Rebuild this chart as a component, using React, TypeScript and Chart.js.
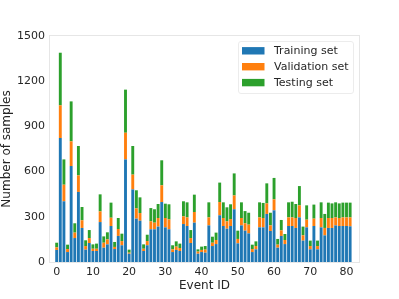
import React, { useEffect, useRef } from 'react';
import { Chart, registerables } from 'chart.js';

Chart.register(...registerables);

const eventIds = [
  0, 1, 2, 3, 4, 5, 6, 7, 8, 9, 10, 11, 12, 13, 14, 15, 16, 17, 18, 19,
  20, 21, 22, 23, 24, 25, 26, 27, 28, 29, 30, 31, 32, 33, 34, 35, 36, 37, 38, 39,
  40, 41, 42, 43, 44, 45, 46, 47, 48, 49, 50, 51, 52, 53, 54, 55, 56, 57, 58, 59,
  60, 61, 62, 63, 64, 65, 66, 67, 68, 69, 70, 71, 72, 73, 74, 75, 76, 77, 78, 79,
  80, 81,
];

const training = [
  80, 823, 403, 66, 637, 159, 465, 226, 82, 126, 73, 73, 265, 95, 117, 239, 86, 173, 111, 681,
  55, 482, 288, 274, 73, 111, 217, 217, 235, 398, 230, 217, 66, 80, 73, 252, 239, 126, 261, 55,
  66, 62, 243, 106, 119, 310, 239, 221, 239, 350, 124, 243, 208, 190, 66, 84, 230, 230, 319, 206,
  343, 95, 173, 119, 239, 239, 226, 296, 142, 230, 84, 239, 84, 230, 177, 226, 226, 243, 239, 239,
  239, 237,
];

const validation = [
  17, 217, 110, 20, 164, 36, 110, 51, 24, 33, 15, 15, 71, 33, 33, 55, 14, 46, 28, 177,
  7, 98, 68, 51, 15, 28, 53, 44, 57, 111, 62, 66, 18, 22, 20, 51, 57, 33, 71, 14,
  14, 20, 53, 22, 27, 88, 53, 49, 46, 92, 29, 49, 49, 58, 20, 22, 66, 62, 70, 37,
  73, 20, 37, 27, 57, 57, 66, 80, 35, 51, 22, 49, 22, 62, 49, 66, 66, 53, 53, 57,
  57, 59,
];

const testing = [
  31, 349, 168, 29, 265, 62, 195, 88, 38, 53, 29, 34, 113, 42, 47, 100, 33, 73, 49, 286,
  20, 190, 120, 104, 29, 42, 88, 89, 93, 166, 95, 100, 27, 35, 29, 100, 100, 53, 115, 15,
  22, 24, 100, 40, 49, 129, 104, 93, 98, 146, 55, 104, 81, 79, 29, 31, 100, 100, 133, 84,
  142, 38, 69, 40, 100, 104, 93, 128, 58, 95, 36, 93, 36, 104, 93, 102, 97, 100, 97, 98,
  98, 98,
];

const seriesNames = ['Training set', 'Validation set', 'Testing set'];
const seriesColors = ['#1f77b4', '#ff7f0e', '#2ca02c'];
const xTicks = [0, 10, 20, 30, 40, 50, 60, 70, 80];
const yTicks = [0, 300, 600, 900, 1200, 1500];

const FONT = 'DejaVu Sans';
const TEXT = '#262626';

const framePlugin = {
  id: 'frame',
  beforeDatasetsDraw(chart: any) {
    const { ctx, chartArea } = chart;
    ctx.save();
    ctx.strokeStyle = '#e6e6e6';
    ctx.lineWidth = 1;
    ctx.strokeRect(
      Math.round(chartArea.left) - 0.5,
      Math.round(chartArea.top) - 0.5,
      Math.round(chartArea.right - chartArea.left) + 1,
      Math.round(chartArea.bottom - chartArea.top) + 1
    );
    ctx.restore();
  },
};

const legendPlugin = {
  id: 'customLegend',
  afterDraw(chart: any) {
    const { ctx } = chart;
    const x0 = 238.5;
    const y0 = 41.5;
    const w = 115;
    const h = 52;
    ctx.save();
    ctx.beginPath();
    const r = 2.5;
    ctx.moveTo(x0 + r, y0);
    ctx.lineTo(x0 + w - r, y0);
    ctx.quadraticCurveTo(x0 + w, y0, x0 + w, y0 + r);
    ctx.lineTo(x0 + w, y0 + h - r);
    ctx.quadraticCurveTo(x0 + w, y0 + h, x0 + w - r, y0 + h);
    ctx.lineTo(x0 + r, y0 + h);
    ctx.quadraticCurveTo(x0, y0 + h, x0, y0 + h - r);
    ctx.lineTo(x0, y0 + r);
    ctx.quadraticCurveTo(x0, y0, x0 + r, y0);
    ctx.closePath();
    ctx.fillStyle = 'rgba(255,255,255,0.8)';
    ctx.fill();
    ctx.strokeStyle = '#ececec';
    ctx.lineWidth = 1;
    ctx.stroke();

    ctx.font = `11px "${FONT}"`;
    ctx.textBaseline = 'middle';
    ctx.textAlign = 'left';
    chart.data.datasets.forEach((ds: any, i: number) => {
      const cy = 50.7 + i * 15.9;
      ctx.fillStyle = ds.backgroundColor;
      ctx.fillRect(242, cy - 3.6, 22.5, 7.4);
      ctx.fillStyle = TEXT;
      ctx.fillText(ds.label, 274, cy + 0.5);
    });
    ctx.restore();
  },
};

export default function App() {
  const canvasRef = useRef<HTMLCanvasElement | null>(null);

  useEffect(() => {
    if (!canvasRef.current) return;
    const seriesValues = [training, validation, testing];
    const chart = new Chart(canvasRef.current, {
      type: 'bar',
      data: {
        datasets: seriesValues.map((vals, s) => ({
          label: seriesNames[s],
          data: eventIds.map((id, i) => ({ x: id, y: vals[i] })),
          backgroundColor: seriesColors[s],
          borderWidth: 0,
          barPercentage: 0.8,
          categoryPercentage: 1,
        })),
      },
      options: {
        animation: false,
        responsive: false,
        maintainAspectRatio: false,
        layout: { padding: { left: 0, right: 40, top: 36, bottom: 0 } },
        plugins: {
          legend: { display: false },
          tooltip: { enabled: false },
        },
        scales: {
          x: {
            type: 'linear',
            stacked: true,
            offset: false,
            min: -1.84,
            max: 83.45,
            afterBuildTicks: (scale: any) => {
              scale.ticks = xTicks.map((v) => ({ value: v }));
            },
            afterFit: (scale: any) => {
              scale.height = 37;
            },
            grid: { display: false, drawTicks: false, offset: false },
            border: { display: false },
            ticks: {
              padding: 4,
              color: TEXT,
              font: { family: FONT, size: 11 },
              maxRotation: 0,
              callback: (v: any) => String(v),
            },
            title: {
              display: true,
              text: 'Event ID',
              color: TEXT,
              font: { family: FONT, size: 12 },
              padding: { top: 0, bottom: 6 },
            },
          },
          y: {
            stacked: true,
            min: 0,
            max: 1500,
            afterBuildTicks: (scale: any) => {
              scale.ticks = yTicks.map((v) => ({ value: v }));
            },
            afterFit: (scale: any) => {
              scale.width = 50;
            },
            grid: { display: false, drawTicks: false },
            border: { display: false },
            ticks: {
              padding: 5,
              color: TEXT,
              font: { family: FONT, size: 11 },
              callback: (v: any) => String(v),
            },
            title: {
              display: true,
              text: 'Number of samples',
              color: TEXT,
              font: { family: FONT, size: 12 },
              padding: { top: 0, bottom: 0 },
            },
          },
        },
      },
      plugins: [framePlugin, legendPlugin],
    } as any);
    return () => chart.destroy();
  }, []);

  return (
    <div style={{ position: 'absolute', left: 0, top: 0, width: 399, height: 299, background: '#fff' }}>
      <canvas ref={canvasRef} width={399} height={299} />
    </div>
  );
}
